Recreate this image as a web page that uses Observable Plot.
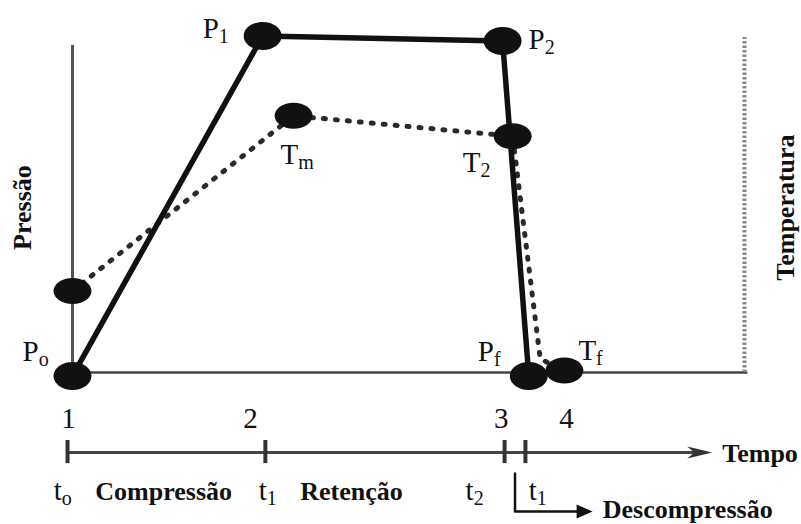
<!DOCTYPE html>
<html><head><meta charset="utf-8">
<script src="https://cdn.jsdelivr.net/npm/d3@7"></script>
<script src="https://cdn.jsdelivr.net/npm/@observablehq/plot@0.6"></script>
<style>body{margin:0;background:#fff}</style>
</head><body><div id="chart"></div>
<script>
// ---------------- data ----------------
const pressureLabels = ["P_o", "P_1", "P_2", "P_f"];
const pressureTime   = [0, 28.3, 64.0, 67.9];
const pressureValue  = [-1, 99, 97.5, -1];

const temperatureLabels = ["", "T_m", "T_2", "", "T_f"];
const temperatureTime   = [0, 32.9, 65.5, 69.6, 73.2];
const temperatureValue  = [24, 75.5, 69.5, 4, 0.6];
const temperatureMarked = [true, true, true, false, true];

const phaseNumbers    = ["1", "2", "3", "4"];
const phaseNumberTime = [-0.6, 26.5, 63.8, 73.5];

const timeTicks       = [-0.74, 28.7, 64.3, 67.4];
const timeTickLabels  = ["t_o", "t_1", "t_2", "t_1"];
const timeTickLabelAt = [-2.8, 27.7, 58.5, 67.9];
const timeAxisEnd     = 95.2;
const decompressionEnd = 77.4;

const phaseNames  = ["Compressão", "Retenção", "Descompressão"];
const phaseNameAt = [3.4, 33.9, 78.9];

const axisTitles = ["Pressão", "Temperatura", "Tempo"];

// ---------------- layout (rows below the baseline, in y units) ----------------
const ROW_NUM = -16.2, ROW_AXIS = -23.5, ROW_TICK_TOP = -20, ROW_TICK_BOT = -26.8;
const ROW_TLAB = [-37.4, -37.4, -37.6, -37.6];
const ROW_NAME = [-37.4, -37.4, -42.9];
const ROW_BRACKET_TOP = -29.7, ROW_BRACKET = -40.9;

const pressure = pressureTime.map((t, i) => ({t, v: pressureValue[i], label: pressureLabels[i]}));
const temperature = temperatureTime.map((t, i) => ({t, v: temperatureValue[i], label: temperatureLabels[i], marked: temperatureMarked[i]}));

const labelOffsets = {
  "P_o": [-50, -15], "P_1": [-60, 2], "P_2": [26, 7.5], "P_f": [-51, -15],
  "T_m": [-13, 48], "T_2": [-50, 36], "T_f": [14, -10]
};

const serif = "Liberation Serif, Times New Roman, serif";

const ellipse = (rx, ry) => ({draw(ctx) {
  const k = 0.5523, kx = rx * k, ky = ry * k;
  ctx.moveTo(rx, 0);
  ctx.bezierCurveTo(rx, ky, kx, ry, 0, ry);
  ctx.bezierCurveTo(-kx, ry, -rx, ky, -rx, 0);
  ctx.bezierCurveTo(-rx, -ky, -kx, -ry, 0, -ry);
  ctx.bezierCurveTo(kx, -ry, rx, -ky, rx, 0);
  ctx.closePath();
}});
const dart = (len, half, notch) => ({draw(ctx) {
  ctx.moveTo(0, 0);
  ctx.lineTo(-len, -half);
  ctx.lineTo(-len + notch, 0);
  ctx.lineTo(-len, half);
  ctx.closePath();
}});

const pointLabelMarks = [...pressure, ...temperature].filter(d => d.label).map(d =>
  Plot.text([d], {x: "t", y: "v", text: "label", dx: labelOffsets[d.label][0], dy: labelOffsets[d.label][1],
    textAnchor: "start", lineAnchor: "bottom", fontSize: 29, fontFamily: serif, fill: "#111"})
);

const bracketX = (timeTicks[2] + timeTicks[3]) / 2;

const svg = Plot.plot({
  width: 801, height: 524, margin: 0,
  style: {background: "#fff"},
  x: {domain: [0, 100], range: [72, 744], axis: null},
  y: {domain: [0, 100], range: [372, 32], axis: null},
  marks: [
    // pressure axis, baseline, temperature axis
    Plot.ruleX([0], {y1: -1, y2: 96.2, stroke: "#555", strokeWidth: 3}),
    Plot.ruleY([0], {x1: 0, x2: 100.5, stroke: "#444", strokeWidth: 2.5}),
    Plot.ruleX([100], {y1: 0, y2: 98.5, stroke: "#888", strokeWidth: 4, strokeDasharray: "2.5,2"}),
    // curves
    Plot.line(temperature, {x: "t", y: "v", stroke: "#2a2a2a", strokeWidth: 5, strokeDasharray: "2,10", strokeLinecap: "round"}),
    Plot.line(pressure, {x: "t", y: "v", stroke: "#111", strokeWidth: 5.5}),
    Plot.dot(pressure, {x: "t", y: "v", symbol: ellipse(19, 14), fill: "#111", stroke: null}),
    Plot.dot(temperature.filter(d => d.marked), {x: "t", y: "v", symbol: ellipse(19, 13), fill: "#111", stroke: null}),
    ...pointLabelMarks,
    // axis titles
    Plot.text([axisTitles[0]], {y: () => 48.5, frameAnchor: "left", dx: 30, rotate: -90, textAnchor: "middle",
      lineAnchor: "bottom", fontSize: 26, fontWeight: "bold", fontFamily: serif, fill: "#111"}),
    Plot.text([axisTitles[1]], {y: () => 48.5, frameAnchor: "right", dx: -8, rotate: -90, textAnchor: "middle",
      lineAnchor: "bottom", fontSize: 26, fontWeight: "bold", fontFamily: serif, fill: "#111"}),
    // time axis
    Plot.ruleY([ROW_AXIS], {x1: timeTicks[0], x2: timeAxisEnd - 2, stroke: "#444", strokeWidth: 3}),
    Plot.dot([timeAxisEnd], {x: d => d, y: () => ROW_AXIS, symbol: dart(25, 6, 7), fill: "#333", stroke: null}),
    Plot.ruleX(timeTicks, {y1: ROW_TICK_TOP, y2: ROW_TICK_BOT, stroke: "#333", strokeWidth: 4}),
    Plot.text([axisTitles[2]], {x: () => timeAxisEnd, y: () => ROW_AXIS, dx: 10, dy: 10, textAnchor: "start",
      lineAnchor: "bottom", fontSize: 26, fontWeight: "bold", fontFamily: serif, fill: "#111"}),
    Plot.text(phaseNumbers, {x: (d, i) => phaseNumberTime[i], y: () => ROW_NUM, textAnchor: "middle",
      lineAnchor: "bottom", fontSize: 29, fontFamily: serif, fill: "#111"}),
    Plot.text(timeTickLabels, {x: (d, i) => timeTickLabelAt[i], y: (d, i) => ROW_TLAB[i], textAnchor: "start",
      lineAnchor: "bottom", fontSize: 29, fontFamily: serif, fill: "#111"}),
    Plot.text(phaseNames, {x: (d, i) => phaseNameAt[i], y: (d, i) => ROW_NAME[i], textAnchor: "start",
      lineAnchor: "bottom", fontSize: 26, fontWeight: "bold", fontFamily: serif, fill: "#111"}),
    // decompression bracket
    Plot.line([{t: bracketX, v: ROW_BRACKET_TOP}, {t: bracketX, v: ROW_BRACKET}, {t: decompressionEnd - 1.5, v: ROW_BRACKET}],
      {x: "t", y: "v", stroke: "#111", strokeWidth: 2.5}),
    Plot.dot([decompressionEnd], {x: d => d, y: () => ROW_BRACKET, symbol: dart(16, 7, 0), fill: "#111", stroke: null})
  ]
});

// render "X_y" as X with subscript y
d3.select(svg).selectAll("text").each(function () {
  const s = this.textContent;
  const i = s.indexOf("_");
  if (i < 0) return;
  this.textContent = s.slice(0, i);
  const ts = document.createElementNS("http://www.w3.org/2000/svg", "tspan");
  ts.setAttribute("dy", "5");
  ts.setAttribute("font-size", "20");
  ts.textContent = s.slice(i + 1);
  this.appendChild(ts);
});

document.getElementById("chart").appendChild(svg);
</script>
</body></html>
